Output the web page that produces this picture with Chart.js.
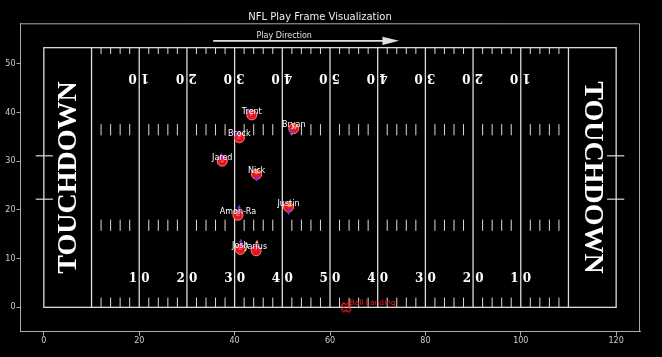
<!DOCTYPE html>
<html>
<head>
<meta charset="utf-8">
<script src="https://cdn.jsdelivr.net/npm/chart.js@4.4.0/dist/chart.umd.min.js"></script>
<style>
    html, body { margin: 0; padding: 0; background: #000; }
    #wrap { width: 662px; height: 357px; }
</style>
</head>
<body>
<div id="wrap"><canvas id="fieldChart" width="662" height="357"></canvas></div>
<script>
// Jogadores no frame
const playerNames = ['Trent', 'Bryan', 'Brock', 'Jared', 'Nick', 'Justin', 'Amon-Ra', 'Josh', 'Jarius'];
const playerX = [43.6, 52.4, 41.0, 37.4, 44.6, 51.3, 40.7, 41.2, 44.5];
const playerY = [39.5, 36.7, 34.8, 30.0, 27.3, 20.6, 18.9, 11.9, 11.6];
// velocidade (roxo) e aceleracao (laranja)
const velX = [-1.0, -0.7, -1.2, -0.2, 0.0, 0.0, 0.3, 0.1, 0.1];
const velY = [1.0, -1.0, 1.2, 1.5, -1.2, -1.4, 1.9, 1.9, 1.5];
const accX = [-0.3, 0.5, -0.3, 0.0, 0.0, 0.3, 0.0, 0.0, 0.2];
const accY = [0.4, 0.4, 0.3, 0.3, 0.6, 0.5, 0.4, 0.4, 2.0];

// Bola
const ballX = [63.4];
const ballY = [0.0];
const ballLabel = 'Ball Landing';

// Eixos e campo
const xTicks = [0, 20, 40, 60, 80, 100, 120];
const yTicks = [0, 10, 20, 30, 40, 50];
const yardLines = [10, 20, 30, 40, 50, 60, 70, 80, 90, 100, 110];
const yardNumbers = ['1 0', '2 0', '3 0', '4 0', '5 0', '4 0', '3 0', '2 0', '1 0'];

const FIELD_W = 53.3;
const LINE = '#dcdcdc';
const SPINE = '#aaaaaa';

// Marcador "X" vazado para a bola
function makeBallMarker() {
    const c = document.createElement('canvas');
    c.width = 14; c.height = 14;
    const g = c.getContext('2d');
    const s = 5, t = s / 3;
    const pts = [[-s, -t], [-t, -t], [-t, -s], [t, -s], [t, -t], [s, -t], [s, t], [t, t], [t, s], [-t, s], [-t, t], [-s, t]];
    g.translate(7, 7);
    g.rotate(Math.PI / 4);
    g.beginPath();
    pts.forEach((p, i) => i ? g.lineTo(p[0], p[1]) : g.moveTo(p[0], p[1]));
    g.closePath();
    g.strokeStyle = '#ff1a1a';
    g.lineWidth = 1;
    g.stroke();
    return c;
}

const fieldPlugin = {
    id: 'field',
    beforeDatasetsDraw(chart) {
        const { ctx, scales: { x, y } } = chart;
        const px = v => x.getPixelForValue(v);
        const py = v => y.getPixelForValue(v);
        const seg = (x1, y1, x2, y2) => {
            ctx.beginPath();
            ctx.moveTo(px(x1), py(y1));
            ctx.lineTo(px(x2), py(y2));
            ctx.stroke();
        };
        ctx.save();
        ctx.strokeStyle = LINE;
        ctx.lineWidth = 1.3;
        ctx.strokeRect(px(0), py(FIELD_W), px(120) - px(0), py(0) - py(FIELD_W));
        yardLines.forEach(v => seg(v, 0, v, FIELD_W));

        // marcas de jarda
        ctx.lineWidth = 1;
        for (let v = 12; v < 110; v += 2) {
            if (v % 10 === 0) continue;
            seg(v, 0, v, 2.0);
            seg(v, FIELD_W, v, 52.0);
            seg(v, 15.7, v, 18.0);
            seg(v, 35.3, v, 37.6);
        }

        // traves
        ctx.lineWidth = 1.2;
        [22.2, 31.1].forEach(g => {
            seg(-1.7, g, 1.9, g);
            seg(118.1, g, 121.7, g);
        });

        // numeros das jardas
        ctx.fillStyle = '#ffffff';
        ctx.font = 'bold 12px "DejaVu Serif"';
        ctx.textAlign = 'center';
        ctx.textBaseline = 'middle';
        yardNumbers.forEach((t, i) => {
            const v = yardLines[i + 1];
            ctx.fillText(t, px(v), py(5.9));
            ctx.save();
            ctx.translate(px(v) - 0.5, py(47.2));
            ctx.rotate(Math.PI);
            ctx.fillText(t, 0, 0);
            ctx.restore();
        });

        // end zones
        ctx.font = 'bold 28px "Liberation Serif"';
        ctx.save();
        ctx.translate(px(5), py(FIELD_W / 2));
        ctx.rotate(-Math.PI / 2);
        ctx.fillText('TOUCHDOWN', 0, 1);
        ctx.restore();
        ctx.save();
        ctx.translate(px(115.2), py(FIELD_W / 2));
        ctx.rotate(Math.PI / 2);
        ctx.fillText('TOUCHDOWN', 0, 1);
        ctx.restore();

        // direcao da jogada
        ctx.strokeStyle = '#e0e0e0';
        ctx.fillStyle = '#e0e0e0';
        ctx.lineWidth = 1.8;
        seg(35.5, 54.7, 71.5, 54.7);
        ctx.beginPath();
        ctx.moveTo(px(74.5), py(54.7));
        ctx.lineTo(px(71.0), py(54.7) - 4.2);
        ctx.lineTo(px(71.0), py(54.7) + 4.2);
        ctx.closePath();
        ctx.fill();
        ctx.font = '8px "DejaVu Sans"';
        ctx.fillText('Play Direction', px(50.4), py(55.65));
        ctx.restore();
    },
    afterDatasetsDraw(chart) {
        const { ctx, chartArea: area, scales: { x, y } } = chart;
        const px = v => x.getPixelForValue(v);
        const py = v => y.getPixelForValue(v);
        const arrow = (x0, y0, dx, dy, color) => {
            const x1 = px(x0), y1 = py(y0), x2 = px(x0 + dx), y2 = py(y0 + dy);
            const a = Math.atan2(y2 - y1, x2 - x1);
            ctx.strokeStyle = color;
            ctx.fillStyle = color;
            ctx.lineWidth = 1.3;
            ctx.beginPath();
            ctx.moveTo(x1, y1);
            ctx.lineTo(x2, y2);
            ctx.stroke();
            ctx.beginPath();
            ctx.moveTo(x2 + Math.cos(a) * 1.5, y2 + Math.sin(a) * 1.5);
            ctx.lineTo(x2 + Math.cos(a + 2.5) * 3, y2 + Math.sin(a + 2.5) * 3);
            ctx.lineTo(x2 + Math.cos(a - 2.5) * 3, y2 + Math.sin(a - 2.5) * 3);
            ctx.closePath();
            ctx.fill();
        };
        ctx.save();
        playerNames.forEach((n, i) => {
            arrow(playerX[i], playerY[i], accX[i], accY[i], '#ff8c1a');
            arrow(playerX[i], playerY[i], velX[i], velY[i], '#8a2be2');
        });
        ctx.fillStyle = '#ffffff';
        ctx.font = '8px "DejaVu Sans"';
        ctx.textAlign = 'center';
        ctx.textBaseline = 'middle';
        playerNames.forEach((n, i) => {
            ctx.fillText(n, px(playerX[i]), py(playerY[i] + 0.7));
        });
        ctx.fillStyle = '#ff1a1a';
        ctx.font = '7.5px "DejaVu Sans"';
        ctx.textAlign = 'left';
        ctx.fillText(ballLabel, px(ballX[0] + 0.7), py(ballY[0] + 0.9));

        // moldura superior e direita
        ctx.strokeStyle = SPINE;
        ctx.lineWidth = 1;
        ctx.beginPath();
        ctx.moveTo(area.left, area.top + 0.5);
        ctx.lineTo(area.right - 0.5, area.top + 0.5);
        ctx.lineTo(area.right - 0.5, area.bottom);
        ctx.stroke();
        ctx.restore();
    }
};

const ctx = document.getElementById('fieldChart').getContext('2d');
const fieldChart = new Chart(ctx, {
    type: 'scatter',
    data: {
        datasets: [
            {
                label: 'Players',
                data: playerX.map((v, i) => ({ x: v, y: playerY[i] })),
                pointRadius: 5,
                backgroundColor: '#e8141b',
                borderColor: '#ff8080',
                borderWidth: 1
            },
            {
                label: ballLabel,
                data: ballX.map((v, i) => ({ x: v, y: ballY[i] })),
                pointStyle: makeBallMarker(),
                pointRadius: 6
            }
        ]
    },
    options: {
        responsive: false,
        devicePixelRatio: 1,
        animation: false,
        layout: { padding: { top: 0, right: 22, left: 0, bottom: 0 } },
        scales: {
            x: {
                type: 'linear',
                min: -5,
                max: 125,
                afterBuildTicks: s => { s.ticks = xTicks.map(v => ({ value: v })); },
                afterFit: s => { s.height = 25.3; },
                ticks: { color: '#cccccc', font: { size: 8, family: 'DejaVu Sans' }, padding: 0 },
                grid: { drawOnChartArea: false, color: SPINE, tickLength: 4 },
                border: { color: SPINE }
            },
            y: {
                type: 'linear',
                min: -5,
                max: 58.3,
                afterBuildTicks: s => { s.ticks = yTicks.map(v => ({ value: v })); },
                afterFit: s => { s.width = 20; },
                ticks: { color: '#cccccc', font: { size: 8, family: 'DejaVu Sans' }, padding: 1 },
                grid: { drawOnChartArea: false, color: SPINE, tickLength: 3.5 },
                border: { color: SPINE }
            }
        },
        plugins: {
            legend: { display: false },
            tooltip: { enabled: false },
            title: {
                display: true,
                text: 'NFL Play Frame Visualization',
                color: '#eeeeee',
                font: { size: 10, family: 'DejaVu Sans', weight: 'normal' },
                padding: { top: 11, bottom: 0.3 }
            }
        }
    },
    plugins: [fieldPlugin]
});
</script>
</body>
</html>
